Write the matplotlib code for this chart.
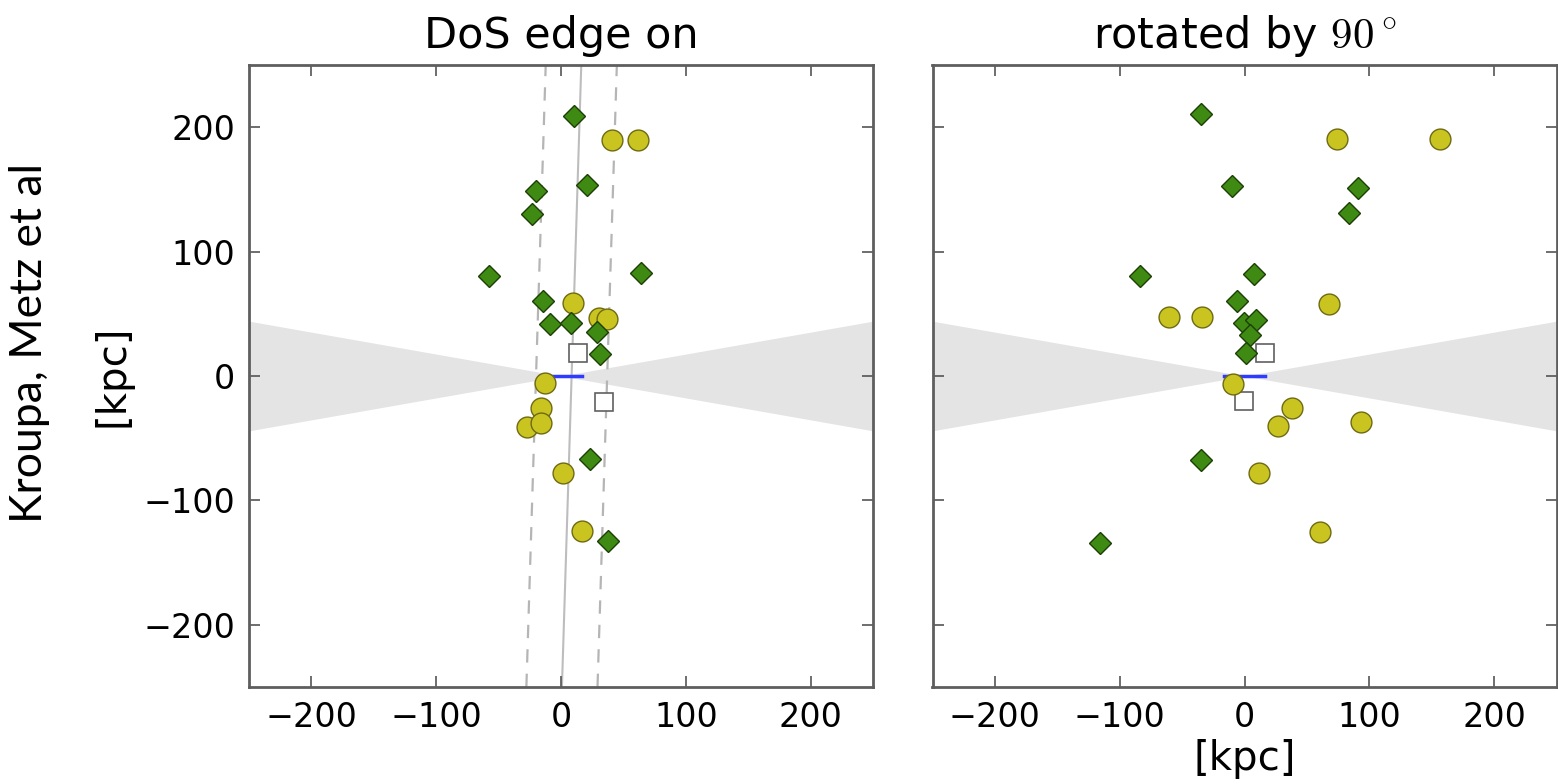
import numpy as np
import matplotlib
matplotlib.use('Agg')
import matplotlib.pyplot as plt

plt.rcParams['mathtext.fontset'] = 'cm'

# satellite positions [kpc], edge-on view of the DoS (x, y)
edge_green_x = [10.5, 20.5, -20, -23, 64, -58, -14.5, -8.5, 8, 29, 31, 23.5, 38]
edge_green_y = [209, 153.5, 149, 130, 82.5, 80, 60, 41.5, 43, 35, 18, -67, -133]
edge_yellow_x = [40.7, 61.6, 9.4, 30.8, 36.7, -13.1, -15.8, -27.1, -15.8, 1.6, 16.6]
edge_yellow_y = [190, 190, 58.8, 46.7, 45.9, -6, -26.1, -40.8, -37.6, -78.3, -124.7]
edge_square_x = [13.9, 34.8]
edge_square_y = [18.1, -21]

# same satellites, view rotated by 90 degrees
rot_green_x = [-35, -10, 91, 84, -84, 7.5, -5.8, -0.5, 9, 4.8, 1.6, -35, -116]
rot_green_y = [211, 153, 151, 131, 80.5, 82, 60, 42.6, 44.7, 33.3, 18.6, -67.7, -134]
rot_yellow_x = [74.2, 157, 67.5, -60.6, -33.9, -9, 38.2, 26.7, 93.7, 11.5, 60.3]
rot_yellow_y = [190.8, 190.8, 58.1, 47.1, 47.1, -6.8, -26, -40.2, -37, -77.6, -125.2]
rot_square_x = [16.8, -0.5]
rot_square_y = [18.6, -20]

# DoS fit line and its width (left panel), MW disk extent, obscured zone
dos_offset = 8.5
dos_slope = 0.031
dos_halfwidth = 28.5
disk_radius = 16.5
obscured_angle = 10.0  # degrees

lim = 250
ticks = [-200, -100, 0, 100, 200]

fig = plt.figure(figsize=(15.58, 7.84), dpi=100)
ax1 = fig.add_axes([249 / 1558, 97 / 784, 624 / 1558, 622 / 784])
ax2 = fig.add_axes([932.5 / 1558, 97 / 784, 624 / 1558, 622 / 784])


def draw_panel(ax, gx, gy, yx, yy, sx, sy, fit=False):
    xw = np.array([-lim, 0, lim])
    yw = np.tan(np.radians(obscured_angle)) * np.abs(xw)
    ax.fill_between(xw, -yw, yw, color='#e4e4e4', lw=0, zorder=0)
    if fit:
        yl = np.array([-lim, lim])
        ax.plot(dos_offset + dos_slope * yl, yl, color='#bdbdbd', lw=1.5, zorder=1)
        for s in (-1, 1):
            ax.plot(dos_offset + s * dos_halfwidth + dos_slope * yl, yl,
                    color='#b5b5b5', lw=1.6, ls=(0, (6, 5)), zorder=1)
    ax.plot([-disk_radius, disk_radius], [0, 0], color='#2f3cff', lw=2.5, zorder=2)
    ax.plot(sx, sy, 's', ms=13, mfc='white', mec='#606060', mew=1.2, zorder=3)
    ax.plot(yx, yy, 'o', ms=15, mfc='#c9c41f', mec='#6e6a12', mew=1.0, zorder=4)
    ax.plot(gx, gy, 'D', ms=11.5, mfc='#3e8a12', mec='#1d3f06', mew=1.0, zorder=5)
    ax.set_xlim(-lim, lim)
    ax.set_ylim(-lim, lim)
    ax.set_xticks(ticks)
    ax.set_yticks(ticks)
    ax.tick_params(direction='in', length=8, width=1.2, color='#555555',
                   top=True, right=True, labelsize=24, pad=10)
    for sp in ax.spines.values():
        sp.set_color('#5e5e5e')
        sp.set_linewidth(2)


draw_panel(ax1, edge_green_x, edge_green_y, edge_yellow_x, edge_yellow_y,
           edge_square_x, edge_square_y, fit=True)
draw_panel(ax2, rot_green_x, rot_green_y, rot_yellow_x, rot_yellow_y,
           rot_square_x, rot_square_y)
ax2.set_yticklabels([])

ax1.set_title('DoS edge on', fontsize=31, pad=12)
ax2.set_title(r'rotated by $90^\circ$', fontsize=31, pad=12)
ax1.set_ylabel('[kpc]', fontsize=29, labelpad=8)
ax2.set_xlabel('[kpc]', fontsize=29, labelpad=4)

fig.text(30 / 1558, 1 - 343 / 784, 'Kroupa, Metz et al', rotation=90,
         ha='center', va='center', fontsize=32, family='Lato')

fig.savefig('out.png', dpi=100)
